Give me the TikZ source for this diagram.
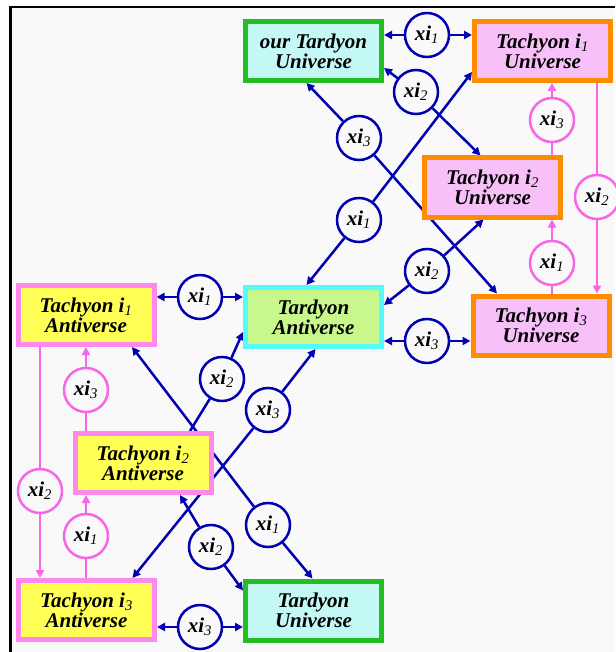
\documentclass[tikz,border=0pt]{standalone}
\usepackage{fontspec}
\setmainfont{Liberation Serif}
\usetikzlibrary{calc,arrows.meta}
\definecolor{bgc}{RGB}{249,249,249}
\definecolor{blueline}{RGB}{0,0,178}
\definecolor{pinkline}{RGB}{250,100,230}
\definecolor{greenb}{RGB}{34,190,34}
\definecolor{cyanfill}{RGB}{196,248,245}
\definecolor{orangeb}{RGB}{255,140,0}
\definecolor{pinkfill}{RGB}{248,192,248}
\definecolor{pinkb}{RGB}{255,136,238}
\definecolor{yellowfill}{RGB}{255,255,85}
\definecolor{cyanb}{RGB}{85,250,250}
\definecolor{greenfill}{RGB}{200,248,140}
\newcommand{\xs}[1]{\textsubscript{\mdseries #1}}
\pgfdeclarelayer{back}
\pgfdeclarelayer{lines}
\pgfsetlayers{back,lines,main}
\begin{document}
\begin{tikzpicture}[x=1pt,y=-1pt,
  box/.style={draw, line width=5pt, minimum width=136pt, minimum height=59pt,
    inner sep=0pt, outer sep=2.5pt, align=center,
    font=\fontsize{21}{20}\selectfont\bfseries\itshape},
  tardyU/.style={box, draw=greenb, fill=cyanfill},
  tachU/.style={box, draw=orangeb, fill=pinkfill},
  tachA/.style={box, draw=pinkb, fill=yellowfill},
  tardyA/.style={box, draw=cyanb, fill=greenfill},
  xic/.style={circle, draw=blueline, line width=2.5pt, fill=bgc, minimum size=44pt,
    inner sep=0pt, outer sep=1.25pt, font=\fontsize{21}{20}\selectfont\bfseries\itshape},
  xip/.style={xic, draw=pinkline},
  conn/.style={draw=blueline, line width=2.5pt},
  pconn/.style={draw=pinkline, line width=2.5pt},
  tip/.style={-{Triangle[length=8pt,width=8pt]}}
]
\useasboundingbox (0,0) rectangle (615,652);
\begin{pgfonlayer}{back}
\fill[white] (0,0) rectangle (615,652);
\fill[bgc] (10.7,7) rectangle (615,652);
\draw[line width=2.7pt] (10.7,652) -- (10.7,7) -- (615,7);
\end{pgfonlayer}

% boxes
\node[tardyU] (oTU) at (313.5,51) {our Tardyon\\Universe};
\node[tachU] (T1U) at (542.5,51) {Tachyon i\xs{1}\\Universe};
\node[tachU] (T2U) at (492.5,187.5) {Tachyon i\xs{2}\\Universe};
\node[tardyA] (TA) at (313.5,317) {Tardyon\\Antiverse};
\node[tachU] (T3U) at (541,325.5) {Tachyon i\xs{3}\\Universe};
\node[tachA] (T1A) at (86,315) {Tachyon i\xs{1}\\Antiverse};
\node[tachA] (T2A) at (143,463) {Tachyon i\xs{2}\\Antiverse};
\node[tachA] (T3A) at (86.5,610) {Tachyon i\xs{3}\\Antiverse};
\node[tardyU] (TU) at (313.5,610.5) {Tardyon\\Universe};

% blue circles
\node[xic] (c1) at (427,35) {xi\xs{1}};
\node[xic] (c2) at (416,92) {xi\xs{2}};
\node[xic] (c3) at (359,138) {xi\xs{3}};
\node[xic] (c4) at (359,220) {xi\xs{1}};
\node[xic] (c5) at (427,271) {xi\xs{2}};
\node[xic] (c6) at (427,341) {xi\xs{3}};
\node[xic] (c7) at (200,297) {xi\xs{1}};
\node[xic] (c8) at (222,379) {xi\xs{2}};
\node[xic] (c9) at (268,410) {xi\xs{3}};
\node[xic] (c10) at (268,525) {xi\xs{1}};
\node[xic] (c11) at (211,547) {xi\xs{2}};
\node[xic] (c12) at (200,627) {xi\xs{3}};
% pink circles
\node[xip] (p1) at (552,120) {xi\xs{3}};
\node[xip] (p2) at (597,197) {xi\xs{2}};
\node[xip] (p3) at (552,263) {xi\xs{1}};
\node[xip] (q1) at (86,390) {xi\xs{3}};
\node[xip] (q2) at (40,491) {xi\xs{2}};
\node[xip] (q3) at (86,536) {xi\xs{1}};

\begin{pgfonlayer}{lines}
% blue connectors
\draw[conn,tip] (c1) -- (c1 -| oTU.east);
\draw[conn,tip] (c1) -- (c1 -| T1U.west);
\draw[conn,tip] (c2) -- ($(oTU.east)+(0,17)$);
\draw[conn,tip] (c2) -- ($(T2U.north)+(-12,0)$);
\draw[conn,tip] (c3) -- ($(oTU.south)+(-7,0)$);
\draw[conn,tip] (c3) -- ($(T3U.north)+(-44,0)$);
\draw[conn,tip] (c4) -- ($(T1U.west)+(0,21)$);
\draw[conn,tip] (c4) -- ($(TA.north)+(-7,0)$);
\draw[conn,tip] (c5) -- ($(T2U.south)+(-9,0)$);
\draw[conn,tip] (c5) -- ($(TA.east)+(0,-12)$);
\draw[conn,tip] (c6) -- (c6 -| TA.east);
\draw[conn,tip] (c6) -- (c6 -| T3U.west);
\draw[conn,tip] (c7) -- (c7 -| T1A.east);
\draw[conn,tip] (c7) -- (c7 -| TA.west);
\draw[conn,tip] (c8) -- ($(TA.west)+(0,15)$);
\draw[conn] (c8) -- ($(T2A.north)+(47,0)$);
\draw[conn,tip] (c9) -- ($(TA.south)+(2,0)$);
\draw[conn,tip] (c9) -- ($(T3A.north)+(46,0)$);
\draw[conn,tip] (c10) -- ($(T1A.south)+(46,0)$);
\draw[conn,tip] (c10) -- ($(TU.north)+(-1,0)$);
\draw[conn,tip] (c11) -- ($(T2A.south)+(37,0)$);
\draw[conn,tip] (c11) -- ($(TU.west)+(0,-20)$);
\draw[conn,tip] (c12) -- (c12 -| T3A.east);
\draw[conn,tip] (c12) -- (c12 -| TU.west);
% pink connectors
\draw[pconn] (T2U.north -| p1) -- (p1);
\draw[pconn,tip] (p1) -- (p1 |- T1U.south);
\draw[pconn] (T1U.south -| p2) -- (p2);
\draw[pconn,tip] (p2) -- (p2 |- T3U.north);
\draw[pconn] (T3U.north -| p3) -- (p3);
\draw[pconn,tip] (p3) -- (p3 |- T2U.south);
\draw[pconn] (T2A.north -| q1) -- (q1);
\draw[pconn,tip] (q1) -- (q1 |- T1A.south);
\draw[pconn] (T1A.south -| q2) -- (q2);
\draw[pconn,tip] (q2) -- (q2 |- T3A.north);
\draw[pconn] (T3A.north -| q3) -- (q3);
\draw[pconn,tip] (q3) -- (q3 |- T2A.south);
\end{pgfonlayer}
\end{tikzpicture}
\end{document}
